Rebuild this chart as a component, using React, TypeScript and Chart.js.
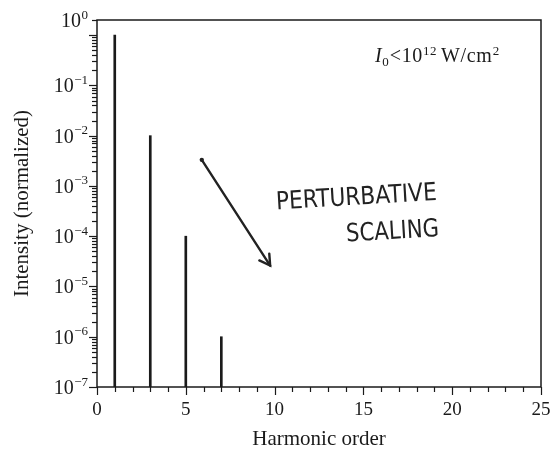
import React, { useEffect, useRef } from "react";
import { Chart, registerables } from "chart.js";

Chart.register(...registerables);

// ---- data ----
const harmonicOrders = [1, 3, 5, 7];
const intensities = [1, 1e-2, 1e-4, 1e-6];
const xTickValues = [0, 5, 10, 15, 20, 25];
const yExponents = [-7, -6, -5, -4, -3, -2, -1, 0];
const X_MIN = 0;
const X_MAX = 25;
const Y_MIN = 1e-7;
const Y_MAX = 2;
const xTitle = "Harmonic order";
const yTitle = "Intensity (normalized)";
const noteLines = ["PERTURBATIVE", "SCALING"];
// annotation anchors in data coordinates
const noteAnchors = [
  { x: 10.1, y: 3.4e-4 },
  { x: 14.05, y: 7.8e-5 },
];
const arrowFrom = { x: 5.9, y: 3.3e-3 };
const arrowTo = { x: 9.75, y: 2.6e-5 };
const intensityLabelAnchor = { x: 15.65, y: 0.29 };

const SERIF = "'Liberation Serif', 'DejaVu Serif', serif";
const INK = "#1a1a1a";

const overlayPlugin = {
  id: "overlay",
  afterDraw(chart: any) {
    const { ctx, chartArea } = chart;
    const xs = chart.scales.x;
    const ys = chart.scales.y;
    ctx.save();
    ctx.strokeStyle = INK;
    ctx.fillStyle = INK;
    // frame
    ctx.lineWidth = 1.5;
    ctx.strokeRect(chartArea.left, chartArea.top, chartArea.right - chartArea.left, chartArea.bottom - chartArea.top);
    // x ticks
    ctx.lineWidth = 1.2;
    for (let v = X_MIN; v <= X_MAX; v++) {
      const px = Math.round(xs.getPixelForValue(v)) + 0.5;
      const len = v % 5 === 0 ? 8 : 5;
      ctx.beginPath();
      ctx.moveTo(px, chartArea.bottom);
      ctx.lineTo(px, chartArea.bottom + len);
      ctx.stroke();
    }
    // y ticks
    for (const e of yExponents) {
      for (let k = 1; k <= 9; k++) {
        const v = k * Math.pow(10, e);
        if (v > Y_MAX * 1.0001) break;
        const py = Math.round(ys.getPixelForValue(v)) + 0.5;
        const len = k === 1 ? 8 : 5;
        ctx.beginPath();
        ctx.moveTo(chartArea.left - len, py);
        ctx.lineTo(chartArea.left, py);
        ctx.stroke();
      }
    }
    // y tick labels 10^e
    ctx.textAlign = "left";
    ctx.textBaseline = "alphabetic";
    const labelRight = chartArea.left - 9;
    for (const e of yExponents) {
      const v = e === 0 ? Y_MAX : Math.pow(10, e);
      const py = ys.getPixelForValue(v);
      const expStr = e === 0 ? "0" : "\u2212" + Math.abs(e);
      ctx.font = `13px ${SERIF}`;
      const wExp = ctx.measureText(expStr).width;
      ctx.font = `20px ${SERIF}`;
      const wBase = ctx.measureText("10").width;
      const x0 = labelRight - wExp - wBase - 0.5;
      ctx.fillText("10", x0, py + 7);
      ctx.font = `13px ${SERIF}`;
      ctx.fillText(expStr, x0 + wBase + 0.5, py - 1.5);
    }
    // intensity label
    {
      let x = xs.getPixelForValue(intensityLabelAnchor.x);
      const y = ys.getPixelForValue(intensityLabelAnchor.y);
      ctx.textBaseline = "alphabetic";
      ctx.textAlign = "left";
      const parts: [string, string, number, number][] = [
        ["I", `italic 20px ${SERIF}`, 0, 0],
        ["0", `13px ${SERIF}`, 4, 0.5],
        ["<10", `20px ${SERIF}`, 0, 0],
        ["12", `13px ${SERIF}`, -7, 4],
        ["W/cm", `20px ${SERIF}`, 0, 0.5],
        ["2", `13px ${SERIF}`, -7, 0],
      ];
      for (const [t, f, dy, gap] of parts) {
        ctx.font = f;
        (ctx as any).letterSpacing = "0.6px";
        ctx.fillText(t, x, y + dy);
        x += ctx.measureText(t).width + gap;
      }
      (ctx as any).letterSpacing = "0px";
    }
    // handwritten note
    ctx.font = "25px 'DejaVu Sans', sans-serif";
    ctx.fillStyle = "#222";
    const widths = [161, 93];
    noteLines.forEach((line, i) => {
      const a = noteAnchors[i];
      ctx.save();
      ctx.translate(xs.getPixelForValue(a.x), ys.getPixelForValue(a.y));
      ctx.rotate(-0.06);
      ctx.textBaseline = "alphabetic";
      ctx.fillText(line, 0, 0, widths[i]);
      ctx.restore();
    });
    // arrow
    const x1 = xs.getPixelForValue(arrowFrom.x);
    const y1 = ys.getPixelForValue(arrowFrom.y);
    const x2 = xs.getPixelForValue(arrowTo.x);
    const y2 = ys.getPixelForValue(arrowTo.y);
    ctx.strokeStyle = "#222";
    ctx.lineWidth = 2.4;
    ctx.lineCap = "round";
    ctx.beginPath();
    ctx.moveTo(x1, y1);
    ctx.lineTo(x2, y2);
    ctx.stroke();
    ctx.beginPath();
    ctx.arc(x1, y1, 2.2, 0, Math.PI * 2);
    ctx.fill();
    const ang = Math.atan2(y2 - y1, x2 - x1);
    const head = 12;
    ctx.beginPath();
    ctx.moveTo(x2 + head * Math.cos(ang + Math.PI - 0.55), y2 + head * Math.sin(ang + Math.PI - 0.55));
    ctx.lineTo(x2, y2);
    ctx.lineTo(x2 + head * Math.cos(ang + Math.PI + 0.5), y2 + head * Math.sin(ang + Math.PI + 0.5));
    ctx.stroke();
    ctx.restore();
  },
};

export default function App() {
  const ref = useRef<HTMLCanvasElement | null>(null);
  useEffect(() => {
    document.body.style.margin = "0";
    document.body.style.overflow = "hidden";
    const canvas = ref.current;
    if (!canvas) return;
    const chart = new Chart(canvas, {
      type: "bar",
      data: {
        datasets: [
          {
            data: harmonicOrders.map((h, i) => ({ x: h, y: intensities[i] })),
            backgroundColor: INK,
            borderWidth: 0,
            barThickness: 2,
          } as any,
        ],
      },
      options: {
        responsive: false,
        animation: false,
        layout: { padding: { top: 20, right: 12, left: 0, bottom: 0 } },
        plugins: { legend: { display: false }, tooltip: { enabled: false } },
        scales: {
          x: {
            type: "linear",
            min: X_MIN,
            max: X_MAX,
            offset: false,
            grid: { display: false, drawTicks: false },
            border: { display: false },
            afterBuildTicks: (s: any) => {
              s.ticks = xTickValues.map((v) => ({ value: v }));
            },
            afterFit: (s: any) => {
              s.height = 65;
              s.paddingLeft = 0;
              s.paddingRight = 0;
              s.paddingTop = 0;
              s.paddingBottom = 0;
            },
            ticks: {
              padding: 12,
              autoSkip: false,
              maxRotation: 0,
              color: INK,
              font: { family: SERIF, size: 19 },
              callback: (v: any) => String(v),
            },
            title: {
              display: true,
              text: xTitle,
              color: INK,
              font: { family: SERIF, size: 21 },
              padding: { top: 0, bottom: 0 },
            },
          },
          y: {
            type: "logarithmic",
            min: Y_MIN,
            max: Y_MAX,
            grid: { display: false, drawTicks: false },
            border: { display: false },
            afterBuildTicks: (s: any) => {
              s.ticks = yExponents.map((e) => ({ value: e === 0 ? Y_MAX : Math.pow(10, e), major: true }));
            },
            afterFit: (s: any) => {
              s.width = 97;
              s.paddingLeft = 0;
              s.paddingRight = 0;
              s.paddingTop = 0;
              s.paddingBottom = 0;
            },
            ticks: {
              display: true,
              autoSkip: false,
              color: "rgba(0,0,0,0)",
              font: { family: SERIF, size: 1 },
              callback: () => "",
            },
            title: {
              display: true,
              text: yTitle,
              color: INK,
              font: { family: SERIF, size: 21 },
              padding: { top: 10, bottom: 0 },
            },
          },
        },
      },
      plugins: [overlayPlugin],
    } as any);
    return () => chart.destroy();
  }, []);
  return (
    <div style={{ width: 553, height: 452, background: "#fff" }}>
      <canvas ref={ref} width={553} height={452} style={{ display: "block" }} />
    </div>
  );
}
